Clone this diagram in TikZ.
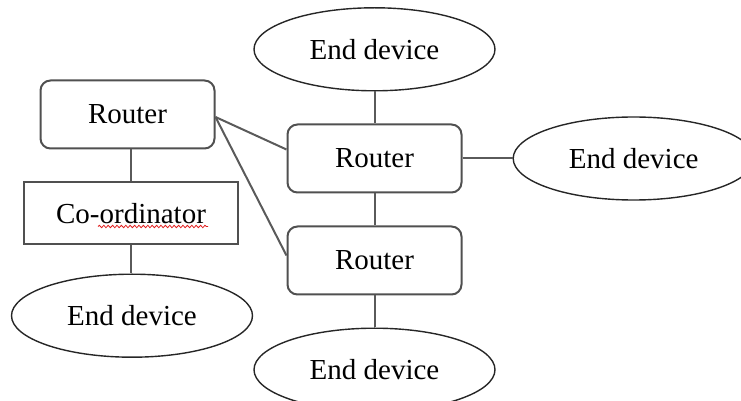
\documentclass[tikz,border=0pt]{standalone}
\usepackage{fontspec}
\setmainfont{Liberation Serif}
\usepackage{xcolor}
\usetikzlibrary{positioning}
\usetikzlibrary{shapes.geometric}
\usetikzlibrary{decorations.pathmorphing}
\definecolor{bordercolor}{RGB}{80, 80, 80}
\definecolor{linkcolor}{RGB}{90, 90, 90}
\definecolor{spellcolor}{RGB}{225, 30, 30}
\tikzstyle{router} = [
    rectangle,
    rounded corners=5pt,
    draw=bordercolor,
    line width=1pt,
    minimum width=87pt,
    minimum height=34pt,
    font=\fontsize{14.5}{17}\selectfont
]
\tikzstyle{coordinator} = [
    rectangle,
    draw=bordercolor,
    line width=1pt,
    minimum width=107pt,
    minimum height=31pt,
    font=\fontsize{14.5}{17}\selectfont
]
\tikzstyle{enddevice} = [
    ellipse,
    draw=black!85,
    line width=0.7pt,
    inner sep=0pt,
    minimum width=120.5pt,
    minimum height=41.5pt,
    font=\fontsize{14.5}{17}\selectfont
]
\tikzstyle{link} = [line width=1pt, linkcolor]
\tikzstyle{spell} = [spellcolor, line width=0.4pt, decorate, decoration={snake, amplitude=0.6pt, segment length=2.2pt}]

\begin{document}
\begin{tikzpicture}

	\useasboundingbox (0,0) rectangle (370.5pt,-200.5pt);

	%
	% Right branch

	% Nodes
	\node[router] (r2) at (187.25pt, -79.25pt) {Router};
	\node[enddevice, above=16pt of r2] (ed-top) {End device};
	\node[router, below=16pt of r2] (r3) {Router};
	\node[enddevice, below=16pt of r3] (ed-bottom) {End device};
	\node[enddevice, right=25pt of r2] (ed-right) {End device};

	% Links
	\draw[link] (ed-top) -- (r2);
	\draw[link] (r2) -- (r3);
	\draw[link] (r3) -- (ed-bottom);
	\draw[link] (r2) -- (ed-right);

	%
	% Left branch

	% Nodes
	\node[router] (r1) at (63.75pt, -57.25pt) {Router};
	\node[coordinator, below=16pt of r1, xshift=1.75pt] (coord) {Co-ordinator};
	\node[enddevice, below=14pt of coord, xshift=0.5pt] (ed-left) {End device};

	% Links
	\draw[link] (coord.north) -- (coord.north |- r1.south);
	\draw[link] (coord.south) -- (coord.south |- ed-left.north);
	\draw[link] ([yshift=-1.25pt]r1.east) -- ([yshift=4.5pt]r2.west);
	\draw[link] ([yshift=-1.25pt]r1.east) -- ([yshift=2.5pt]r3.west);

	% Spell check mark
	\draw[spell] ([xshift=-16.5pt, yshift=-6.5pt]coord.center) -- ([xshift=38.5pt, yshift=-6.5pt]coord.center);

\end{tikzpicture}
\end{document}
